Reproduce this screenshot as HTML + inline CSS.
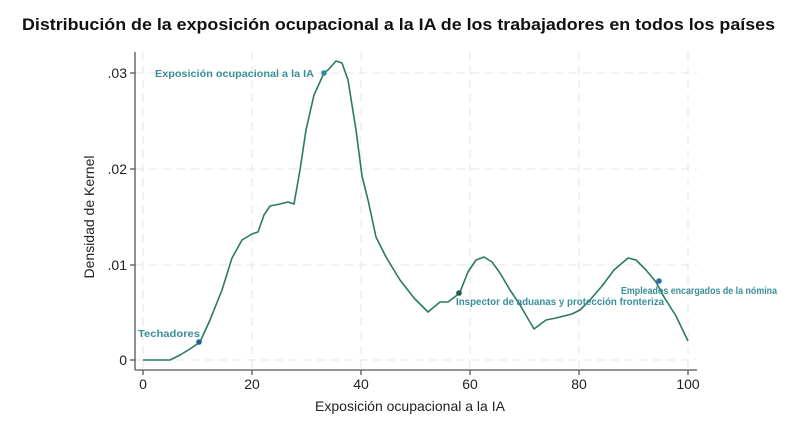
<!DOCTYPE html>
<html><head><meta charset="utf-8"><style>
body{margin:0;background:#fff;width:800px;height:418px;overflow:hidden}
</style></head><body>
<svg width="800" height="418" xmlns="http://www.w3.org/2000/svg">
<text x="22" y="30" textLength="753" lengthAdjust="spacingAndGlyphs" font-family="Liberation Sans, sans-serif" font-weight="bold" font-size="17" fill="#111">Distribución de la exposición ocupacional a la IA de los trabajadores en todos los países</text>
<g stroke="#e6e6e6" stroke-dasharray="8,6" stroke-width="1">
<line x1="135" y1="73" x2="697" y2="73"/><line x1="135" y1="169" x2="697" y2="169"/><line x1="135" y1="265" x2="697" y2="265"/><line x1="135" y1="360" x2="697" y2="360"/>
<line x1="143" y1="52" x2="143" y2="370"/><line x1="252" y1="52" x2="252" y2="370"/><line x1="361" y1="52" x2="361" y2="370"/><line x1="470" y1="52" x2="470" y2="370"/><line x1="579" y1="52" x2="579" y2="370"/><line x1="688" y1="52" x2="688" y2="370"/>
</g>
<g stroke="#555" stroke-width="1.3">
<line x1="135" y1="52" x2="135" y2="370"/><line x1="135" y1="370" x2="697" y2="370"/>
<line x1="130" y1="73" x2="135" y2="73"/><line x1="130" y1="169" x2="135" y2="169"/><line x1="130" y1="265" x2="135" y2="265"/><line x1="130" y1="360" x2="135" y2="360"/>
<line x1="143" y1="370" x2="143" y2="375"/><line x1="252" y1="370" x2="252" y2="375"/><line x1="361" y1="370" x2="361" y2="375"/><line x1="470" y1="370" x2="470" y2="375"/><line x1="579" y1="370" x2="579" y2="375"/><line x1="688" y1="370" x2="688" y2="375"/>
</g>
<g font-family="Liberation Sans, sans-serif" font-size="14" fill="#222">
<text x="127" y="78" text-anchor="end">.03</text><text x="127" y="174" text-anchor="end">.02</text><text x="127" y="270" text-anchor="end">.01</text><text x="127" y="365" text-anchor="end">0</text>
<text x="143" y="389" text-anchor="middle">0</text><text x="252" y="389" text-anchor="middle">20</text><text x="361" y="389" text-anchor="middle">40</text><text x="470" y="389" text-anchor="middle">60</text><text x="579" y="389" text-anchor="middle">80</text><text x="688" y="389" text-anchor="middle">100</text>
<text x="410" y="411" text-anchor="middle">Exposición ocupacional a la IA</text>
<text transform="translate(94,217) rotate(-90)" text-anchor="middle">Densidad de Kernel</text>
</g>
<path fill="none" stroke="#2a7a62" stroke-width="1.6" stroke-linejoin="round" d="M143,360 L170,360 L180,355 L190,349 L200,342 L210,320 L222,290 L232,258 L242,240 L252,234 L258,232 L264,215 L270,206 L280,204 L288,202 L294,204 L300,170 L306,130 L314,95 L324,73 L328,70 L336,61 L342,63 L348,80 L356,130 L362,176 L368,200 L376,237 L386,257 L400,280 L414,298 L428,312 L440,302 L448,302 L456,296 L460,292 L468,272 L476,260 L484,257 L492,262 L500,273 L510,290 L520,305 L534,329 L546,320 L556,318 L572,314 L580,310 L590,300 L602,286 L614,270 L628,258 L636,260 L646,270 L656,282 L664,297 L676,316 L688,341"/>
<circle cx="199" cy="342" r="2.8" fill="#1f5f9a"/>
<circle cx="324" cy="73" r="2.8" fill="#2a8ea0"/>
<circle cx="459" cy="293" r="2.8" fill="#1b5e4a"/>
<circle cx="659" cy="281" r="2.8" fill="#2a6fa8"/>
<g font-family="Liberation Sans, sans-serif" font-weight="bold" font-size="10" fill="#3a8f98">
<text x="138" y="337" textLength="62" lengthAdjust="spacingAndGlyphs">Techadores</text>
<text x="155" y="77" textLength="159" lengthAdjust="spacingAndGlyphs">Exposición ocupacional a la IA</text>
<text x="456" y="305" textLength="208" lengthAdjust="spacingAndGlyphs">Inspector de aduanas y protección fronteriza</text>
<text x="621" y="294" textLength="156" lengthAdjust="spacingAndGlyphs">Empleados encargados de la nómina</text>
</g>
</svg>
</body></html>
